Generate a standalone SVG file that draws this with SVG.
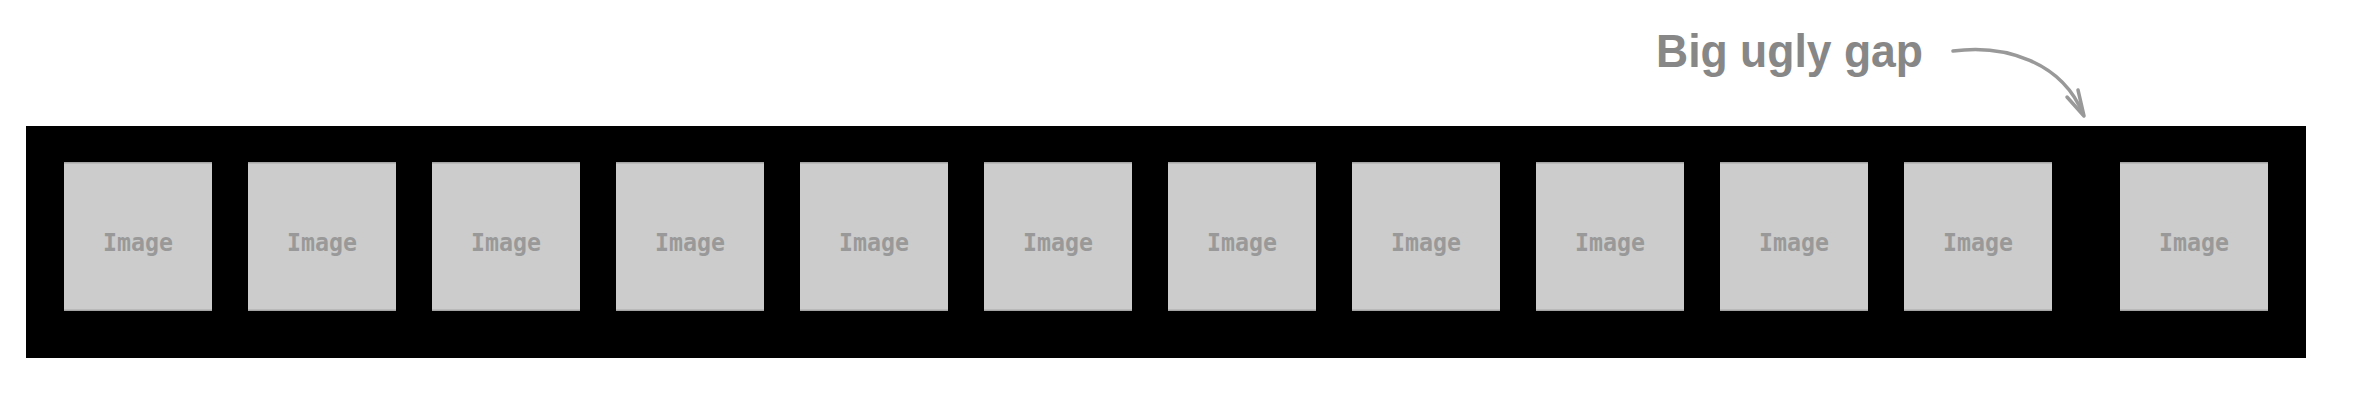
<svg xmlns="http://www.w3.org/2000/svg" width="2356" height="404" viewBox="0 0 2356 404">
<style>
.box{fill:#cccccc}
.edge{stroke:#a5a5a5;stroke-width:1.5}
.lbl{font-family:"DejaVu Sans Mono","Liberation Mono",monospace;font-weight:bold;font-size:25px;fill:#999999;text-anchor:middle}
.title{font-family:"Liberation Sans",Arial,sans-serif;font-weight:bold;font-size:46px;fill:#878787}
.conn{fill:none;stroke:#999999;stroke-width:3.5;stroke-linecap:round;stroke-linejoin:round}
</style>
<defs>
<g id="tile">
<rect class="box" x="0" y="0" width="148" height="149"/>
<line class="edge" x1="0" y1="0.75" x2="148" y2="0.75"/>
<line class="edge" x1="0" y1="148.25" x2="148" y2="148.25"/>
<text class="lbl" x="74" y="89" textLength="70" lengthAdjust="spacingAndGlyphs">Image</text>
</g>
</defs>
<rect width="2356" height="404" fill="#ffffff"/>
<g id="container"><rect x="26" y="126" width="2280" height="232" fill="#000000"/></g>
<g id="img1"><use href="#tile" x="64" y="162"/></g>
<g id="img2"><use href="#tile" x="248" y="162"/></g>
<g id="img3"><use href="#tile" x="432" y="162"/></g>
<g id="img4"><use href="#tile" x="616" y="162"/></g>
<g id="img5"><use href="#tile" x="800" y="162"/></g>
<g id="img6"><use href="#tile" x="984" y="162"/></g>
<g id="img7"><use href="#tile" x="1168" y="162"/></g>
<g id="img8"><use href="#tile" x="1352" y="162"/></g>
<g id="img9"><use href="#tile" x="1536" y="162"/></g>
<g id="img10"><use href="#tile" x="1720" y="162"/></g>
<g id="img11"><use href="#tile" x="1904" y="162"/></g>
<g id="img12"><use href="#tile" x="2120" y="162"/></g>
<g id="label"><text class="title" x="1656" y="67" textLength="267" lengthAdjust="spacingAndGlyphs">Big ugly gap</text></g>
<g id="connectors">
<path class="conn" d="M1953,51 C2005,44 2062,62 2083,114"/>
<polyline class="conn" points="2067,97 2084,116 2078,90"/>
</g>
</svg>
